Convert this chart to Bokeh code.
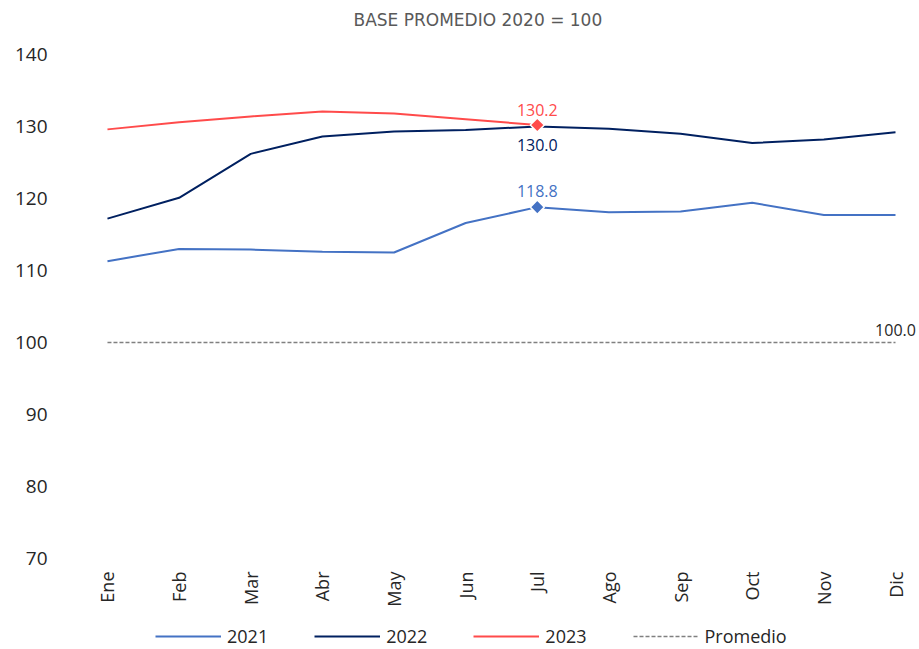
import math
from bokeh.plotting import figure
from bokeh.layouts import column
from bokeh.models import Range1d, FixedTicker, Legend, LegendItem
from bokeh.core.properties import value
from bokeh.embed import file_html
from bokeh.resources import INLINE

months = ["Ene", "Feb", "Mar", "Abr", "May", "Jun", "Jul", "Ago", "Sep", "Oct", "Nov", "Dic"]
v2021 = [111.3, 113.0, 112.9, 112.6, 112.5, 116.6, 118.8, 118.1, 118.2, 119.4, 117.7, 117.7]
v2022 = [117.2, 120.1, 126.2, 128.6, 129.3, 129.5, 130.0, 129.7, 129.0, 127.7, 128.2, 129.2]
v2023 = [129.6, 130.6, 131.4, 132.1, 131.8, 131.0, 130.2]
promedio = [100.0, 100.0, 100.0, 100.0, 100.0, 100.0, 100.0, 100.0, 100.0, 100.0, 100.0, 100.0]
y_ticks = [70, 80, 90, 100, 110, 120, 130, 140]
series_names = ["2021", "2022", "2023", "Promedio"]
title_text = "BASE PROMEDIO 2020 = 100"

C21 = "#4472C4"
C22 = "#002060"
C23 = "#FF4B4B"
CPR = "#808080"
FONT = "Open Sans"

xs = list(range(len(months)))


def strip(height):
    f = figure(width=919, height=height, output_backend="svg", toolbar_location=None,
               x_range=Range1d(0, 1), y_range=Range1d(0, 1),
               x_axis_type=None, y_axis_type=None,
               min_border_left=68, min_border_right=0, min_border_top=0, min_border_bottom=0)
    f.outline_line_color = None
    f.xgrid.visible = False
    f.ygrid.visible = False
    return f


# title strip
tt = strip(40)
tt.title.text = title_text
tt.title.align = "left"
tt.title.offset = 285
tt.title.text_font = "DejaVu Sans"
tt.title.text_font_size = "17px"
tt.title.text_font_style = "normal"
tt.title.text_color = "#595959"
tt.title.standoff = 14

# main chart
p = figure(width=919, height=578, output_backend="svg", toolbar_location=None,
           x_range=Range1d(-0.544, 11.335), y_range=Range1d(70, 140),
           min_border_left=68, min_border_right=0, min_border_top=14, min_border_bottom=60)
p.outline_line_color = None
p.xgrid.visible = False
p.ygrid.visible = False

DASH = "4 2"
p.line(xs, v2021, line_color=C21, line_width=2)
p.line(xs, v2022, line_color=C22, line_width=2)
p.line(xs[:len(v2023)], v2023, line_color=C23, line_width=2)
p.line(xs, promedio, line_color=CPR, line_width=1.3, line_dash=DASH)

j = len(v2023) - 1
p.scatter([xs[j]], [v2021[j]], marker="square", angle=math.pi / 4, size=10,
          fill_color=C21, line_color="white", line_width=1.5)
p.scatter([xs[j]], [v2023[j]], marker="square", angle=math.pi / 4, size=10,
          fill_color=C23, line_color="white", line_width=1.5)

lab_kw = dict(text_font=value(FONT), text_font_size="16px", text_align="center")
p.text([xs[j]], [v2023[j]], text=[f"{v2023[j]:.1f}"], text_color=C23,
       text_baseline="bottom", y_offset=-9, **lab_kw)
p.text([xs[j]], [v2022[j]], text=[f"{v2022[j]:.1f}"], text_color=C22,
       text_baseline="top", y_offset=12, **lab_kw)
p.text([xs[j]], [v2021[j]], text=[f"{v2021[j]:.1f}"], text_color=C21,
       text_baseline="bottom", y_offset=-10, **lab_kw)
p.text([xs[-1]], [promedio[-1]], text=[f"{promedio[-1]:.1f}"], text_color="#262626",
       text_baseline="bottom", y_offset=-7, **lab_kw)

for ax in (p.xaxis[0], p.yaxis[0]):
    ax.axis_line_color = None
    ax.major_tick_line_color = None
    ax.minor_tick_line_color = None
    ax.major_tick_out = 0
    ax.major_tick_in = 0
    ax.major_label_text_font = FONT
    ax.major_label_text_color = "#262626"

p.yaxis[0].ticker = FixedTicker(ticks=y_ticks)
p.yaxis[0].major_label_text_font_size = "19px"
p.yaxis[0].major_label_standoff = 21

p.xaxis[0].ticker = FixedTicker(ticks=xs)
p.xaxis[0].major_label_overrides = {i: m for i, m in enumerate(months)}
p.xaxis[0].major_label_orientation = math.pi / 2
p.xaxis[0].major_label_text_font_size = "18px"
p.xaxis[0].major_label_standoff = 13

# legend strip (off-range copies of the series feed the legend glyphs)
lg = strip(31)
styles = [dict(line_color=C21, line_width=2), dict(line_color=C22, line_width=2),
          dict(line_color=C23, line_width=2),
          dict(line_color=CPR, line_width=1.3, line_dash=DASH)]
series = [v2021, v2022, v2023, promedio]
items = []
for name, st, vals in zip(series_names, styles, series):
    r = lg.line(xs[:len(vals)], vals, **st)
    items.append(LegendItem(label=name, renderers=[r]))
legend = Legend(items=items, orientation="horizontal", location=(87, 1),
                border_line_color=None, background_fill_alpha=0,
                glyph_width=66, glyph_height=16, label_standoff=6, spacing=46,
                label_text_font=FONT, label_text_font_size="18px",
                label_text_color="#262626", padding=0, margin=0)
lg.add_layout(legend, "center")

open("out.html", "w").write(file_html(column(tt, p, lg, spacing=0), INLINE))
